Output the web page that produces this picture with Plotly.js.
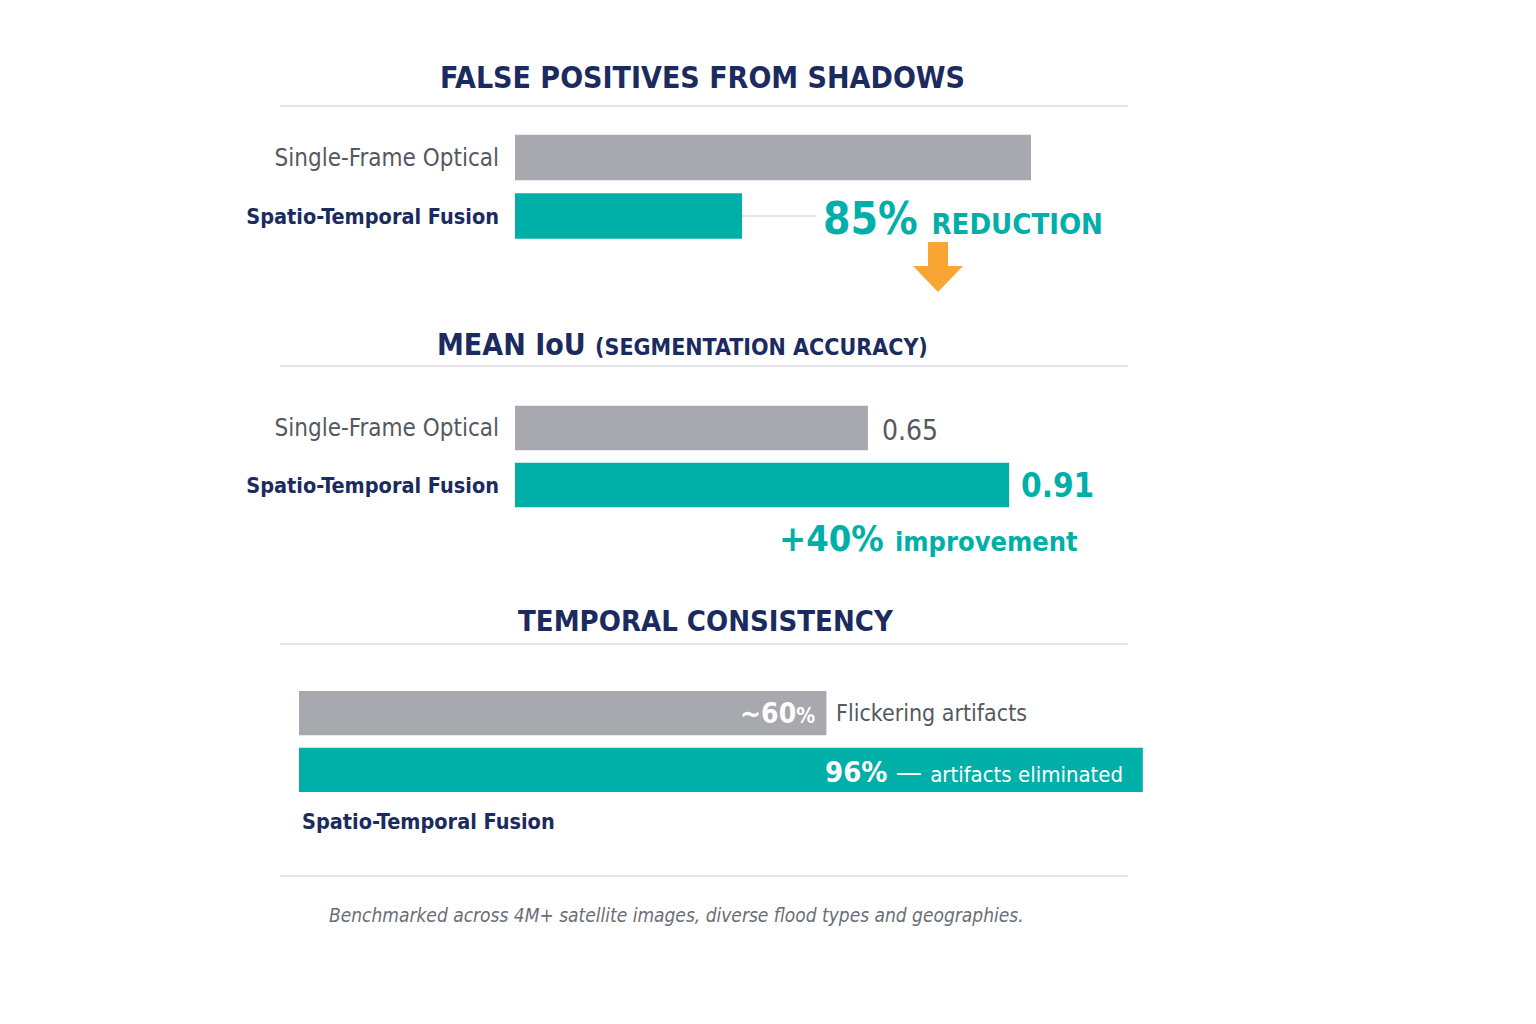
<!DOCTYPE html>
<html>
<head>
<meta charset="utf-8">
<script src="https://cdn.plot.ly/plotly-3.0.1.min.js"></script>
<style>
  html, body { margin: 0; padding: 0; background: #ffffff; }
  #chart { width: 1536px; height: 1024px; }
</style>
</head>
<body>
<div id="chart"></div>
<script>
// ---- data ----
const methods = ["Single-Frame Optical", "Spatio-Temporal Fusion"];
const falsePositiveIndex = [100, 44];       // relative false positives from shadows
const meanIoU = [0.65, 0.91];               // segmentation accuracy
const temporalScores = [60, 96];            // % flickering vs % artifacts eliminated
const panelTitles = [
  "FALSE POSITIVES FROM SHADOWS",
  "MEAN IoU <span style='font-size:23px'>(SEGMENTATION ACCURACY)</span>",
  "TEMPORAL CONSISTENCY"
];
const reductionLabel = ["85%", "REDUCTION"];
const improvementLabel = ["+40%", "improvement"];
const flickerLabel = "Flickering artifacts";
const eliminatedLabel = "artifacts eliminated";
const footnote = "Benchmarked across 4M+ satellite images, diverse flood types and geographies.";

// ---- style ----
const W = 1536, H = 1024;
const GRAY = "#a7a9af", TEAL = "#00afa7", NAVY = "#1c2b5f", TEXT_GRAY = "#55595f";
const ORANGE = "#f8a533", RULE = "#dcdde2";
const FONT = "'DejaVu Sans Condensed', 'DejaVu Sans', sans-serif";

const px = x => x / W;
const py = y => 1 - y / H;

function bars(xs, xa, ya) {
  return {
    type: "bar", orientation: "h", y: methods, x: xs,
    xaxis: xa, yaxis: ya, width: 0.78,
    marker: { color: [GRAY, TEAL] },
    hoverinfo: "x+y", showlegend: false
  };
}

const data = [
  bars(falsePositiveIndex, "x", "y"),
  bars(meanIoU, "x2", "y2"),
  bars(temporalScores, "x3", "y3")
];

function xAxis(d0, d1, range, anchor) {
  return { domain: [px(d0), px(d1)], range: range, anchor: anchor,
           visible: false, fixedrange: true };
}
function yAxis(top, bottom, anchor, showLabels) {
  return {
    domain: [py(bottom), py(top)], anchor: anchor,
    type: "category", categoryarray: methods, range: [1.5, -0.5],
    showgrid: false, zeroline: false, showline: false, ticks: "",
    showticklabels: showLabels, ticklabelstandoff: 15,
    tickmode: "array", tickvals: methods,
    ticktext: [
      "<span style='color:" + TEXT_GRAY + "'>" + methods[0] + "</span>",
      "<b><span style='color:" + NAVY + ";font-size:21.5px'>" + methods[1] + "</span></b>"
    ],
    tickfont: { family: FONT, size: 24, color: TEXT_GRAY },
    fixedrange: true
  };
}

// thin horizontal rules separating the panels
const rules = [106, 366, 644, 876].map(y => ({
  type: "line", xref: "paper", yref: "paper",
  x0: px(280), x1: px(1128), y0: py(y), y1: py(y),
  line: { color: RULE, width: 1.5 }
}));

// downward arrow between the first two panels
const arrow = {
  type: "path", xref: "paper", yref: "paper",
  path: `M ${px(928)} ${py(242)} L ${px(948)} ${py(242)} L ${px(948)} ${py(266)} ` +
        `L ${px(963)} ${py(266)} L ${px(938)} ${py(292)} L ${px(913)} ${py(266)} ` +
        `L ${px(928)} ${py(266)} Z`,
  fillcolor: ORANGE, line: { width: 0 }
};

// connector from the end of the fusion bar to the reduction callout
const connector = {
  type: "line", xref: "x", yref: "y", xsizemode: "pixel", xanchor: falsePositiveIndex[1],
  x0: 0, x1: 74, y0: methods[1], y1: methods[1],
  line: { color: "#c9cace", width: 1.2 }
};

function ann(o) {
  return Object.assign({ showarrow: false, font: { family: FONT } }, o);
}

const annotations = [
  ann({ xref: "paper", yref: "paper", x: px(702), y: py(77), xanchor: "center", yanchor: "middle",
        text: "<b>" + panelTitles[0] + "</b>", font: { family: FONT, size: 30, color: NAVY } }),
  ann({ xref: "paper", yref: "paper", x: px(682), y: py(344), xanchor: "center", yanchor: "middle",
        text: "<b>" + panelTitles[1] + "</b>", font: { family: FONT, size: 30, color: NAVY } }),
  ann({ xref: "paper", yref: "paper", x: px(706), y: py(621), xanchor: "center", yanchor: "middle",
        text: "<b>" + panelTitles[2] + "</b>", font: { family: FONT, size: 29, color: NAVY } }),

  // panel 1 callout
  ann({ xref: "x", yref: "y", x: falsePositiveIndex[1], y: methods[1], xanchor: "left", yanchor: "middle",
        xshift: 79, yshift: -2,
        text: "<b>" + reductionLabel[0] + " <span style='font-size:29px'>" + reductionLabel[1] + "</span></b>",
        font: { family: FONT, size: 44, color: TEAL } }),

  // panel 2 values
  ann({ xref: "x2", yref: "y2", x: meanIoU[0], y: methods[0], xanchor: "left", yanchor: "middle",
        xshift: 12, yshift: -2, text: meanIoU[0].toFixed(2), font: { family: FONT, size: 28, color: TEXT_GRAY } }),
  ann({ xref: "x2", yref: "y2", x: meanIoU[1], y: methods[1], xanchor: "left", yanchor: "middle",
        xshift: 10, text: "<b>" + meanIoU[1].toFixed(2) + "</b>", font: { family: FONT, size: 33, color: TEAL } }),
  ann({ xref: "paper", yref: "paper", x: px(1080), y: py(538), xanchor: "right", yanchor: "middle",
        text: "<b>" + improvementLabel[0] + " <span style='font-size:27px'>" + improvementLabel[1] + "</span></b>",
        font: { family: FONT, size: 36, color: TEAL } }),

  // panel 3 labels
  ann({ xref: "x3", yref: "y3", x: temporalScores[0], y: methods[0], xanchor: "right", yanchor: "middle",
        xshift: -9, text: "<b>~" + temporalScores[0] + "<span style='font-size:21px'>%</span></b>",
        font: { family: FONT, size: 28, color: "#ffffff" } }),
  ann({ xref: "x3", yref: "y3", x: temporalScores[0], y: methods[0], xanchor: "left", yanchor: "middle",
        xshift: 8, text: flickerLabel, font: { family: FONT, size: 23, color: TEXT_GRAY } }),
  ann({ xref: "x3", yref: "y3", x: temporalScores[1], y: methods[1], xanchor: "right", yanchor: "middle",
        xshift: -18, yshift: -2,
        text: "<b>" + temporalScores[1] + "%</b> — <span style='font-size:22px'>" + eliminatedLabel + "</span>",
        font: { family: FONT, size: 29, color: "#ffffff" } }),
  ann({ xref: "paper", yref: "paper", x: px(300), y: py(821), xanchor: "left", yanchor: "middle",
        text: "<b>" + methods[1] + "</b>", font: { family: FONT, size: 21.5, color: NAVY } }),

  // footnote
  ann({ xref: "paper", yref: "paper", x: px(676), y: py(915), xanchor: "center", yanchor: "middle",
        text: "<i>" + footnote + "</i>", font: { family: FONT, size: 19, color: "#6a6e75" } })
];

const layout = {
  width: W, height: H,
  margin: { l: 0, r: 0, t: 0, b: 0 },
  paper_bgcolor: "#ffffff", plot_bgcolor: "rgba(0,0,0,0)",
  xaxis: xAxis(515, 1031, [0, 100], "y"),
  yaxis: yAxis(128.25, 245.25, "x", true),
  xaxis2: xAxis(515, 1058, [0, 1], "y2"),
  yaxis2: yAxis(399.5, 513.5, "x2", true),
  xaxis3: xAxis(299, 1178, [0, 100], "y3"),
  yaxis3: yAxis(684.75, 798.25, "x3", false),
  shapes: rules.concat([arrow, connector]),
  annotations: annotations
};

Plotly.newPlot("chart", data, layout, { displayModeBar: false, staticPlot: true });
</script>
</body>
</html>
